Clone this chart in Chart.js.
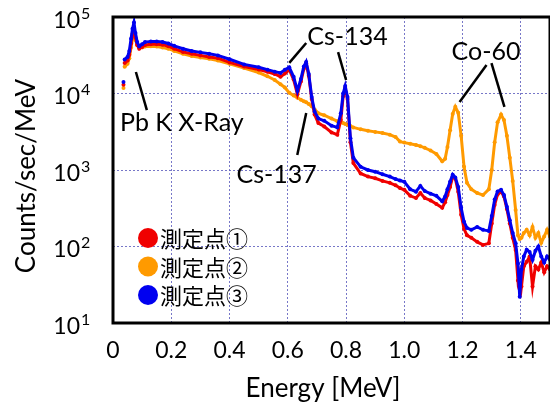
<!DOCTYPE html>
<html>
<head>
<meta charset="utf-8">
<script src="https://cdn.jsdelivr.net/npm/chart.js@4/dist/chart.umd.min.js"></script>
<style>
html, body { margin: 0; padding: 0; overflow: hidden; background: #fff; }
canvas { display: block; }
</style>
</head>
<body>
<canvas id="spectrum" width="554" height="402"></canvas>
<script>
// energy channels [MeV] and count rates [counts/sec/MeV]
var energy = [0.036, 0.038, 0.040, 0.050, 0.056, 0.062, 0.067, 0.072, 0.077, 0.083, 0.090, 0.100, 0.110, 0.130, 0.150, 0.170, 0.190, 0.210, 0.240, 0.270,
  0.300, 0.330, 0.360, 0.400, 0.450, 0.500, 0.530, 0.555, 0.575, 0.590, 0.605, 0.620, 0.633, 0.645, 0.655, 0.663, 0.672, 0.682, 0.692, 0.705,
  0.725, 0.750, 0.770, 0.782, 0.790, 0.797, 0.805, 0.815, 0.825, 0.850, 0.875, 0.900, 0.925, 0.950, 0.970, 0.985, 1.000, 1.020, 1.040, 1.055,
  1.070, 1.090, 1.110, 1.130, 1.140, 1.148, 1.157, 1.166, 1.175, 1.185, 1.195, 1.205, 1.215, 1.230, 1.250, 1.270, 1.290, 1.300, 1.310, 1.320,
  1.332, 1.342, 1.352, 1.362, 1.372, 1.382, 1.390, 1.396, 1.402, 1.410, 1.420, 1.430, 1.440, 1.450, 1.460, 1.470, 1.480, 1.490, 1.500];

var point1 = [13000, null, 25000, 27000, 32000, 45000, 60000, 70000, 54000, 43000, 38500, 40500, 43000, 44000, 44000, 43500, 41500, 38500, 35000, 33000,
  31500, 30000, 29000, 25500, 22500, 20600, 19200, 18000, 16600, 18200, 20500, 15200, 9800, 14300, 21000, 24800, 17000, 8500, 5300, 4100,
  3700, 3100, 2900, 4500, 9200, 11800, 8500, 2300, 1230, 900, 820, 780, 720, 680, 630, 580, 550, 460, 430, 500,
  430, 400, 360, 320, 380, 470, 600, 820, 770, 520, 260, 170, 140, 130, 115, 105, 110, 200, 350, 480,
  520, 450, 310, 200, 130, 90, 36, 45, 30, 55, 63, 74, 30, 55, 50, 62, 46, 55, 50];

var point2 = [11800, null, 22300, 24500, 29000, 40000, 52000, 58000, 50000, 43000, 40000, 40000, 41000, 41500, 41000, 40000, 38500, 36000, 33000, 31000,
  29500, 28500, 27000, 24500, 21500, 18800, 16800, 15000, 13200, 12000, 10200, 9400, 8800, 8300, 7900, 7700, 7300, 6800, 6200, 5500,
  5200, 4700, 4350, 4200, 4100, 4000, 3900, 3750, 3600, 3400, 3250, 3150, 3050, 2900, 2700, 2350, 2280, 2200, 2120, 2050,
  1950, 1800, 1620, 1300, 1400, 2000, 3300, 5400, 6700, 5600, 2800, 1100, 680, 560, 500, 470, 560, 1000, 2300, 4200,
  5300, 4500, 2800, 1450, 720, 300, 140, 125, 130, 150, 165, 140, 180, 130, 150, 112, 135, 165, 135];

var point3 = [14100, null, 27800, 30000, 36000, 52000, 70000, 85000, 62000, 47000, 41500, 44000, 47000, 48000, 48000, 47000, 45000, 42000, 38500, 36000,
  34500, 33000, 31500, 28000, 24000, 22000, 20500, 19300, 18600, 20500, 22000, 16500, 10800, 15500, 22500, 25800, 18000, 9000, 5800, 4700,
  4400, 3800, 3600, 5500, 10000, 12500, 9000, 2600, 1450, 1100, 1000, 950, 880, 820, 760, 730, 700, 560, 520, 620,
  530, 490, 460, 390, 450, 560, 700, 870, 800, 600, 320, 210, 175, 165, 180, 165, 160, 250, 410, 525,
  550, 470, 330, 220, 150, 110, 60, 22, 50, 74, 91, 85, 67, 88, 100, 74, 62, 74, 67];

var seriesNames = ["測定点①", "測定点②", "測定点③"];
var seriesColors = ["#f00000", "#ff9a00", "#0000f0"];

var energyTicks = [0, 0.2, 0.4, 0.6, 0.8, 1.0, 1.2, 1.4];
var energyTickLabels = ["0", "0.2", "0.4", "0.6", "0.8", "1.0", "1.2", "1.4"];
var countTicks = [10, 100, 1000, 10000, 100000];
var countExponents = ["1", "2", "3", "4", "5"];

// peak annotations, placed in data units (energy, counts)
var peakNames = ["Pb K X-Ray", "Cs-134", "Cs-137", "Co-60"];
var peakTextAt = [[0.024, 3240], [0.667, 43100], [0.424, 676], [1.162, 27400]];
var peakPointers = [
  [[0.0786, 19100], [0.1162, 6080]],
  [[0.6632, 45700], [0.6051, 25100]],
  [[0.7726, 34800], [0.8000, 15000]],
  [[0.6632, 5560], [0.6325, 1570]],
  [[1.2821, 23600], [1.1897, 7750]],
  [[1.2991, 25000], [1.3436, 6670]]
];

var gridColor = "rgba(95, 95, 190, 0.85)";
var latin = "Lato, 'Noto Sans', sans-serif";

function toPoints(ys) {
  return energy.map(function (e, i) { return { x: e, y: ys[i] }; });
}

var frameAndLabels = {
  id: "frameAndLabels",
  afterDraw: function (chart) {
    var c = chart.ctx, a = chart.chartArea;
    var xs = chart.scales.x, ys = chart.scales.y;
    c.save();

    // plot frame
    c.strokeStyle = "#000";
    c.lineWidth = 3;
    c.strokeRect(a.left, a.top, a.right - a.left, a.bottom - a.top);

    c.fillStyle = "#000";
    // y tick labels 10^n
    countTicks.forEach(function (v, i) {
      var y = ys.getPixelForValue(v);
      c.font = "23px " + latin;
      c.textAlign = "right";
      c.textBaseline = "alphabetic";
      c.fillText("10", 80, y + 10.5);
      c.font = "16px " + latin;
      c.textAlign = "left";
      c.fillText(countExponents[i], 81, y + 1.5);
    });

    // x tick labels
    c.font = "23px " + latin;
    c.textAlign = "center";
    energyTicks.forEach(function (v, i) {
      c.fillText(energyTickLabels[i], xs.getPixelForValue(v), 358);
    });

    // axis titles
    c.font = "26px " + latin;
    c.fillText("Energy [MeV]", 323, 397);
    c.save();
    c.translate(35, 176);
    c.rotate(-Math.PI / 2);
    c.fillText("Counts/sec/MeV", 0, 0);
    c.restore();

    // peak labels and pointer lines
    c.font = "25px " + latin;
    c.textAlign = "left";
    peakNames.forEach(function (name, i) {
      c.fillText(name, xs.getPixelForValue(peakTextAt[i][0]), ys.getPixelForValue(peakTextAt[i][1]));
    });
    c.lineWidth = 2.5;
    peakPointers.forEach(function (p) {
      c.beginPath();
      c.moveTo(xs.getPixelForValue(p[0][0]), ys.getPixelForValue(p[0][1]));
      c.lineTo(xs.getPixelForValue(p[1][0]), ys.getPixelForValue(p[1][1]));
      c.stroke();
    });

    // legend
    var legendY = [238, 266.5, 295];
    c.font = "22px 'Noto Sans CJK JP', sans-serif";
    c.textBaseline = "middle";
    seriesNames.forEach(function (name, i) {
      c.fillStyle = seriesColors[i];
      c.beginPath();
      c.arc(148, legendY[i], 10, 0, Math.PI * 2);
      c.fill();
      c.fillStyle = "#000";
      c.fillText(name, 160, legendY[i] + 1);
    });

    c.restore();
  }
};

var ctx = document.getElementById("spectrum");

var spectrumChart = new Chart(ctx, {
  type: "scatter",
  data: {
    datasets: [
      { label: seriesNames[0], data: toPoints(point1), borderColor: seriesColors[0], backgroundColor: seriesColors[0], showLine: true, order: 1 },
      { label: seriesNames[1], data: toPoints(point2), borderColor: seriesColors[1], backgroundColor: seriesColors[1], showLine: true, order: 2 },
      { label: seriesNames[2], data: toPoints(point3), borderColor: seriesColors[2], backgroundColor: seriesColors[2], showLine: true, order: 0 }
    ]
  },
  options: {
    responsive: false,
    animation: false,
    elements: {
      point: { radius: 2, borderWidth: 0 },
      line: { borderWidth: 3, tension: 0 }
    },
    layout: { padding: { left: 113, top: 17, right: 2, bottom: 79 } },
    plugins: {
      legend: { display: false },
      tooltip: { enabled: false }
    },
    scales: {
      x: {
        type: "linear",
        min: 0,
        max: 1.5,
        afterBuildTicks: function (s) { s.ticks = energyTicks.map(function (v) { return { value: v }; }); },
        ticks: { display: false },
        grid: { color: gridColor, lineWidth: 1, drawTicks: false },
        border: { display: false, dash: [2, 2] }
      },
      y: {
        type: "logarithmic",
        min: 10,
        max: 100000,
        afterBuildTicks: function (s) { s.ticks = countTicks.map(function (v) { return { value: v }; }); },
        ticks: { display: false },
        grid: { color: gridColor, lineWidth: 1, drawTicks: false },
        border: { display: false, dash: [2, 2] }
      }
    }
  },
  plugins: [frameAndLabels]
});
</script>
</body>
</html>
